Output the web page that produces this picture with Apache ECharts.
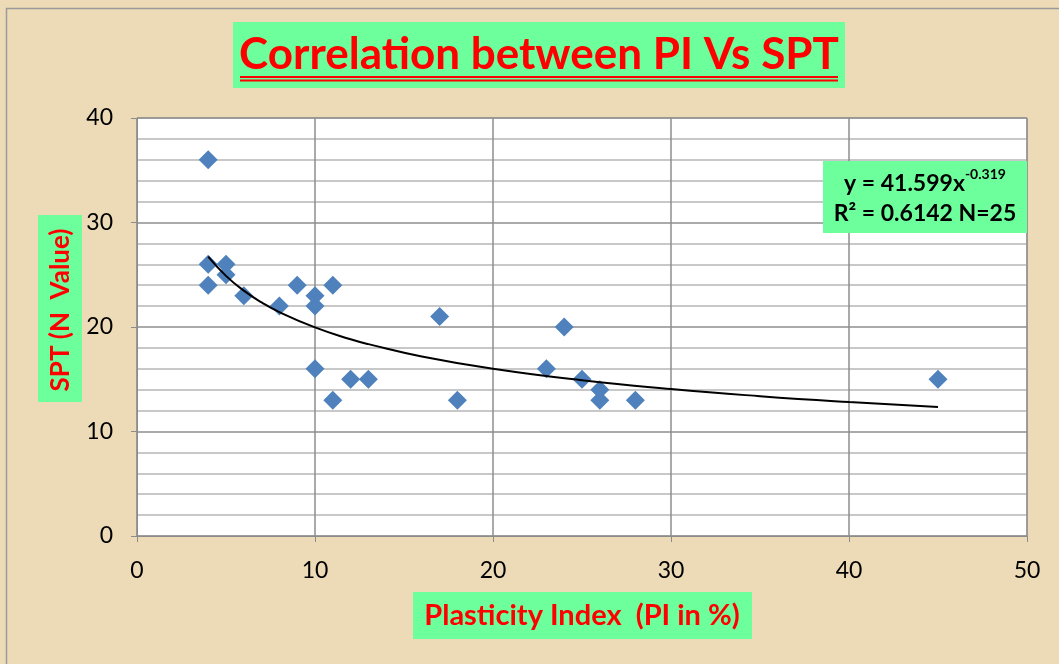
<!DOCTYPE html>
<html>
<head>
<meta charset="utf-8">
<script src="https://cdn.jsdelivr.net/npm/echarts@6/dist/echarts.min.js"></script>
<style>html,body{margin:0;padding:0;background:#fff}#c{width:1059px;height:664px}</style>
</head>
<body>
<div id="c"></div>
<script>
// Data
const piValues  = [4, 4, 4, 5, 5, 6, 8, 9, 10, 10, 11, 10, 11, 12, 13, 17, 18, 23, 24, 25, 26, 26, 28, 45];
const sptValues = [36, 26, 24, 26, 25, 23, 22, 24, 23, 22, 24, 16, 13, 15, 15, 21, 13, 16, 20, 15, 14, 13, 13, 15];
// Power trend line (y = 41.599x^-0.319)
const trendX = [4, 5, 6, 7, 8, 10, 12, 13, 16, 20, 25, 30, 35, 40, 45];
const trendY = [26.73, 24.89, 23.48, 22.36, 21.43, 19.96, 18.83, 18.36, 17.18, 16.00, 14.90, 14.06, 13.38, 12.82, 12.35];
const xTicks = [0, 10, 20, 30, 40, 50];
const yTicks = [0, 10, 20, 30, 40];
const titleText = 'Correlation between PI Vs SPT';
const xTitle = 'Plasticity Index  (PI in %)';
const yTitle = 'SPT (N  Value)';
const eqLine1 = 'y = 41.599x';
const eqSup = '-0.319';
const eqLine2 = 'R² = 0.6142 N=25';

const chart = echarts.init(document.getElementById('c'), null, {renderer: 'canvas'});
const points = piValues.map((x, i) => [x, sptValues[i]]);
const trend = trendX.map((x, i) => [x, trendY[i]]);
const FONT = 'Lato, "Open Sans", sans-serif';
const GREEN = '#6dff9b';
const RED = '#ff0000';

chart.setOption({
  backgroundColor: '#ecdbb6',
  animation: false,
  grid: {left: 137, right: 32, top: 118, bottom: 128, show: true, backgroundColor: '#ffffff', borderColor: '#9a9a9a', borderWidth: 1},
  xAxis: {
    type: 'value', min: xTicks[0], max: xTicks[xTicks.length - 1], interval: 10,
    axisLine: {show: true, lineStyle: {color: '#8c8c8c', width: 1}},
    axisTick: {show: true, length: 6, lineStyle: {color: '#8c8c8c'}},
    axisLabel: {color: '#000', fontSize: 23, fontFamily: FONT, margin: 23},
    splitLine: {show: true, lineStyle: {color: '#8e8e8e', width: 1.5}}
  },
  yAxis: {
    type: 'value', min: yTicks[0], max: yTicks[yTicks.length - 1], interval: 10,
    axisLine: {show: true, lineStyle: {color: '#8c8c8c', width: 1}},
    axisTick: {show: true, length: 6, lineStyle: {color: '#8c8c8c'}},
    axisLabel: {color: '#000', fontSize: 23, fontFamily: FONT, margin: 24},
    splitLine: {show: true, lineStyle: {color: '#8e8e8e', width: 1.5}},
    minorTick: {show: false, splitNumber: 5},
    minorSplitLine: {show: true, lineStyle: {color: '#c8c8c8', width: 2}}
  },
  series: [
    {
      type: 'line', data: trend, smooth: true, showSymbol: false, symbol: 'none',
      lineStyle: {color: '#000', width: 2}, z: 3
    },
    {
      type: 'scatter', data: points, symbol: 'diamond', symbolSize: 19,
      itemStyle: {color: '#4f81bd', opacity: 1}, z: 2
    }
  ],
  graphic: [
    {type: 'rect', left: 4, top: 6, shape: {width: 1060, height: 664}, style: {fill: 'none', stroke: '#9a9a9a', lineWidth: 1.5}, silent: true, z: 1},
    // title
    {type: 'rect', shape: {x: 233, y: 22, width: 612, height: 66}, style: {fill: GREEN}, z: 10},
    {type: 'text', x: 539, y: 55, style: {text: titleText, fill: RED, font: 'bold 44px ' + FONT, align: 'center', verticalAlign: 'middle'}, z: 11},
    {type: 'line', shape: {x1: 240, y1: 77, x2: 838, y2: 77}, style: {stroke: RED, lineWidth: 1.8}, z: 11},
    {type: 'line', shape: {x1: 240, y1: 80.5, x2: 838, y2: 80.5}, style: {stroke: RED, lineWidth: 1.8}, z: 11},
    // y axis title
    {type: 'rect', shape: {x: 38, y: 215, width: 44, height: 187}, style: {fill: GREEN}, z: 10},
    {type: 'text', x: 61, y: 310, rotation: Math.PI / 2, style: {text: yTitle, fill: RED, font: 'bold 26px ' + FONT, align: 'center', verticalAlign: 'middle'}, z: 11},
    // x axis title
    {type: 'rect', shape: {x: 413, y: 592, width: 339, height: 47}, style: {fill: GREEN}, z: 10},
    {type: 'text', x: 582, y: 616, style: {text: xTitle, fill: RED, font: 'bold 29px ' + FONT, align: 'center', verticalAlign: 'middle'}, z: 11},
    // equation box
    {type: 'rect', shape: {x: 823, y: 161, width: 204, height: 72}, style: {fill: GREEN}, z: 10},
    {type: 'text', x: 925, y: 181, style: {
      text: '{a|' + eqLine1 + '}{s|' + eqSup + '}',
      rich: {a: {fontSize: 23, fontWeight: 'bold', fontFamily: FONT, fill: '#000', lineHeight: 28, verticalAlign: 'bottom'},
             s: {fontSize: 14, fontWeight: 'bold', fontFamily: FONT, fill: '#000', lineHeight: 28, verticalAlign: 'top', padding: [0, 0, 12, 0]}},
      align: 'center', verticalAlign: 'middle'}, z: 11},
    {type: 'text', x: 925, y: 214, style: {text: eqLine2, fill: '#000', font: 'bold 23px ' + FONT, align: 'center', verticalAlign: 'middle'}, z: 11}
  ]
});
</script>
</body>
</html>
